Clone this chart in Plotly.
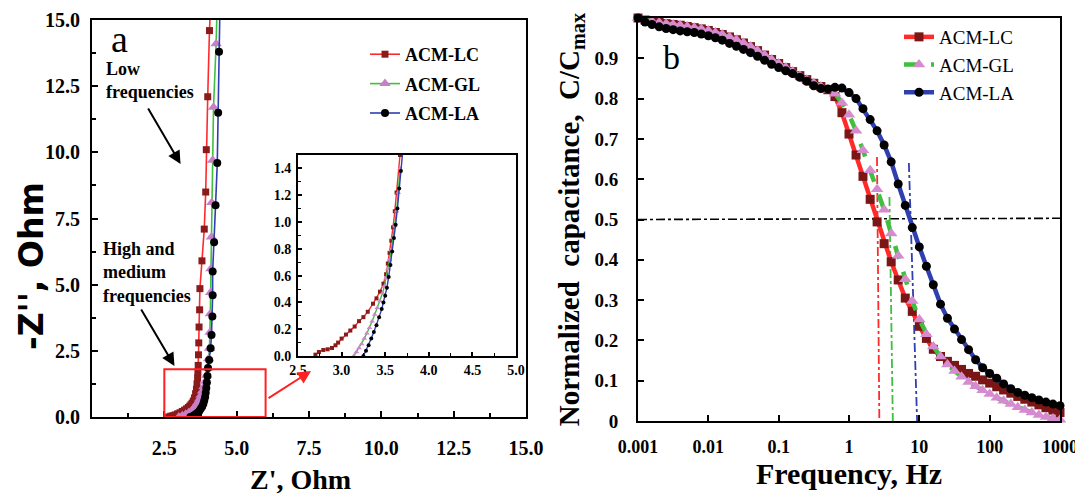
import plotly.graph_objects as go

# ---------------- Panel a : Nyquist plot (main) ----------------
lc_zre = [2.65, 2.72, 2.80, 2.88, 2.96, 3.04, 3.12, 3.20, 3.27, 3.33, 3.38, 3.42, 3.46, 3.50, 3.54,
          3.58, 3.61, 3.63, 3.65, 3.66, 3.67, 3.68, 3.69, 3.70, 3.72, 3.73, 3.80, 3.88, 3.93, 3.95,
          4.00, 4.06, 4.09]
lc_zim = [0.00, 0.03, 0.05, 0.08, 0.12, 0.16, 0.21, 0.26, 0.31, 0.36, 0.41, 0.46, 0.52, 0.60, 0.72,
          0.88, 1.05, 1.25, 1.48, 1.70, 1.95, 2.35, 2.80, 3.40, 4.05, 4.85, 5.90, 7.10, 8.50, 10.10,
          12.10, 14.60, 15.40]

gl_zre = [3.00, 3.12, 3.24, 3.35, 3.45, 3.53, 3.60, 3.66, 3.72, 3.77, 3.82, 3.87, 3.92, 3.96, 4.00,
          4.03, 4.06, 4.08, 4.09, 4.10, 4.11, 4.13, 4.14, 4.17, 4.20, 4.29, 4.32]
gl_zim = [0.00, 0.05, 0.10, 0.17, 0.25, 0.34, 0.44, 0.55, 0.68, 0.82, 0.98, 1.15, 1.35, 1.58, 1.85,
          2.20, 2.60, 3.20, 3.90, 4.70, 5.60, 6.80, 8.10, 9.70, 11.70, 14.10, 15.40]

la_zre = [3.40, 3.50, 3.58, 3.65, 3.71, 3.76, 3.81, 3.85, 3.88, 3.91, 3.93, 3.95, 3.97, 3.99,
          4.01, 4.05, 4.10, 4.13, 4.16, 4.17, 4.17, 4.22, 4.27, 4.33, 4.36, 4.39, 4.42]
la_zim = [0.00, 0.05, 0.10, 0.16, 0.23, 0.31, 0.40, 0.50, 0.62, 0.76, 0.92, 1.10, 1.30, 1.55,
          1.85, 2.15, 2.60, 3.10, 3.80, 4.60, 5.50, 6.60, 8.00, 9.60, 11.50, 13.80, 15.40]

# ---------------- Panel a : inset ----------------
lci_zre = [2.70, 2.74, 2.79, 2.84, 2.89, 2.93, 2.96, 3.00, 3.05, 3.10, 3.15, 3.20, 3.25, 3.30, 3.36,
           3.40, 3.44, 3.48, 3.51, 3.53, 3.55, 3.57, 3.59, 3.61, 3.63, 3.67]
lci_zim = [0.01, 0.03, 0.045, 0.05, 0.06, 0.08, 0.10, 0.13, 0.16, 0.19, 0.22, 0.26, 0.29, 0.33, 0.39,
           0.43, 0.48, 0.54, 0.61, 0.69, 0.77, 0.86, 0.96, 1.08, 1.22, 1.50]
gli_zre = [3.14, 3.17, 3.20, 3.23, 3.26, 3.29, 3.32, 3.35, 3.38, 3.41, 3.44, 3.47, 3.49, 3.51, 3.53,
           3.55, 3.57, 3.59, 3.61, 3.63, 3.65, 3.67]
gli_zim = [0.00, 0.03, 0.06, 0.09, 0.13, 0.17, 0.21, 0.26, 0.31, 0.36, 0.41, 0.47, 0.52, 0.58, 0.65,
           0.72, 0.79, 0.88, 0.97, 1.08, 1.22, 1.40]
lai_zre = [3.25, 3.28, 3.31, 3.34, 3.37, 3.40, 3.43, 3.46, 3.48, 3.50, 3.52, 3.54, 3.56, 3.58, 3.60,
           3.62, 3.64, 3.66, 3.68, 3.70]
lai_zim = [0.00, 0.04, 0.08, 0.13, 0.18, 0.23, 0.29, 0.35, 0.40, 0.45, 0.51, 0.59, 0.68, 0.78, 0.88,
           0.98, 1.10, 1.25, 1.38, 1.52]

# zoom box drawn on the main plot
zoom_box_x = [2.5, 6.0]
zoom_box_y = [0.0, 1.8]

# ---------------- Panel b : normalized capacitance ----------------
freq = [0.001, 0.00126, 0.00158, 0.002, 0.00251, 0.00316, 0.00398, 0.00501, 0.00631, 0.00794,
        0.01, 0.0126, 0.0158, 0.02, 0.0251, 0.0316, 0.0398, 0.0501, 0.0631, 0.0794,
        0.1, 0.126, 0.158, 0.2, 0.251, 0.316, 0.398, 0.501, 0.631, 0.794,
        1, 1.26, 1.58, 2, 2.51, 3.16, 3.98, 5.01, 6.31, 7.94,
        10, 12.6, 15.8, 20, 25.1, 31.6, 39.8, 50.1, 63.1, 79.4,
        100, 126, 158, 200, 251, 316, 398, 501, 631, 794, 1000]

c_lc = [1.000, 0.995, 0.992, 0.989, 0.986, 0.984, 0.982, 0.979, 0.976, 0.973,
        0.969, 0.964, 0.959, 0.953, 0.946, 0.938, 0.929, 0.919, 0.908, 0.897,
        0.887, 0.877, 0.867, 0.857, 0.847, 0.838, 0.830, 0.822, 0.805, 0.765,
        0.712, 0.660, 0.607, 0.550, 0.494, 0.440, 0.395, 0.350, 0.305, 0.272,
        0.235, 0.205, 0.178, 0.160, 0.148, 0.138, 0.128, 0.118, 0.111, 0.102,
        0.094, 0.085, 0.077, 0.069, 0.061, 0.054, 0.047, 0.040, 0.033, 0.027, 0.021]

c_gl = [1.000, 0.995, 0.992, 0.989, 0.986, 0.984, 0.982, 0.979, 0.976, 0.973,
        0.969, 0.964, 0.959, 0.953, 0.946, 0.938, 0.929, 0.919, 0.908, 0.897,
        0.887, 0.877, 0.867, 0.857, 0.847, 0.838, 0.830, 0.822, 0.812, 0.790,
        0.760, 0.720, 0.672, 0.622, 0.575, 0.524, 0.465, 0.410, 0.352, 0.298,
        0.252, 0.215, 0.185, 0.160, 0.140, 0.124, 0.110, 0.097, 0.086, 0.076,
        0.067, 0.058, 0.050, 0.042, 0.034, 0.027, 0.021, 0.015, 0.010, 0.006, 0.003]

c_la = [1.000, 0.990, 0.984, 0.978, 0.974, 0.971, 0.968, 0.966, 0.964, 0.960,
        0.956, 0.951, 0.945, 0.937, 0.930, 0.922, 0.914, 0.905, 0.895, 0.885,
        0.877, 0.869, 0.862, 0.853, 0.843, 0.832, 0.825, 0.824, 0.828, 0.826,
        0.815, 0.800, 0.775, 0.748, 0.720, 0.685, 0.643, 0.588, 0.535, 0.480,
        0.432, 0.384, 0.338, 0.290, 0.255, 0.228, 0.202, 0.177, 0.152, 0.132,
        0.118, 0.106, 0.092, 0.080, 0.071, 0.064, 0.058, 0.052, 0.047, 0.042, 0.038]

# reference (guide) lines in panel b
half_x = [0.001, 1000]
half_y = [0.5, 0.503]
lc_guide_x, lc_guide_y = [2.5, 2.7], [0.655, 0.0]
gl_guide_x, gl_guide_y = [3.76, 4.2], [0.556, 0.0]
la_guide_x, la_guide_y = [7.1, 9.3], [0.64, 0.0]

x_ticks_a = [2.5, 5.0, 7.5, 10.0, 12.5, 15.0]
x_minor_a = [1.25, 3.75, 6.25, 8.75, 11.25, 13.75]
f_ticks = [0.001, 0.01, 0.1, 1, 10, 100, 1000]
f_labels = ["0.001", "0.01", "0.1", "1", "10", "100", "1000"]
c_ticks = [0, 0.1, 0.2, 0.3, 0.4, 0.5, 0.6, 0.7, 0.8, 0.9, 1.0]
c_labels = ["0", "0.1", "0.2", "0.3", "0.4", "0.5", "0.6", "0.7", "0.8", "0.9", "1"]

SERIF = "Liberation Serif, Times New Roman, serif"
SANS = "DejaVu Sans, Arial, sans-serif"
OFF = 8                      # page body margin in the browser
W, H = 1083 - OFF, 494 - OFF

RED, GREEN, BLUE = "#ff2b2b", "#3fbf3f", "#2f3fb0"
DRED, PINK, BLACK = "#7a1616", "#d68ad0", "#000000"

fig = go.Figure()

# ---- main Nyquist traces
for name, xs, ys, lc, mc, sym, ms, grp in [
    ("ACM-LC", lc_zre, lc_zim, RED, "#8b1a1a", "square", 7, "a1"),
    ("ACM-GL", gl_zre, gl_zim, GREEN, "#c77fc7", "triangle-up", 10, "a2"),
    ("ACM-LA", la_zre, la_zim, BLUE, BLACK, "circle", 8, "a3"),
]:
    fig.add_trace(go.Scatter(x=xs, y=ys, mode="lines+markers", name=name,
                             line=dict(color=lc, width=1.6),
                             marker=dict(symbol=sym, size=ms, color=mc),
                             xaxis="x", yaxis="y", legend="legend", legendgroup=grp))

# ---- inset traces
for xs, ys, lc, mc, sym, ms in [
    (lci_zre, lci_zim, RED, "#8b1a1a", "square", 4),
    (gli_zre, gli_zim, GREEN, "#cc88cc", "triangle-up", 5),
    (lai_zre, lai_zim, BLUE, BLACK, "circle", 4),
]:
    fig.add_trace(go.Scatter(x=xs, y=ys, mode="lines+markers", showlegend=False,
                             line=dict(color=lc, width=1.4),
                             marker=dict(symbol=sym, size=ms, color=mc),
                             xaxis="x2", yaxis="y2"))

# ---- panel b guide lines
fig.add_trace(go.Scatter(x=half_x, y=half_y, mode="lines", showlegend=False,
                         line=dict(color="black", width=1.6, dash="dashdot"), xaxis="x3", yaxis="y3"))
for gx, gy, col in [(lc_guide_x, lc_guide_y, RED), (gl_guide_x, gl_guide_y, GREEN),
                    (la_guide_x, la_guide_y, BLUE)]:
    fig.add_trace(go.Scatter(x=gx, y=gy, mode="lines", showlegend=False,
                             line=dict(color=col, width=1.8, dash="dashdot"), xaxis="x3", yaxis="y3"))

# ---- panel b curves
for name, ys, lc, dash, mc, sym, ms, grp in [
    ("ACM-LC", c_lc, RED, "solid", DRED, "square", 9, "b1"),
    ("ACM-GL", c_gl, GREEN, "dash", PINK, "triangle-up", 11, "b2"),
    ("ACM-LA", c_la, BLUE, "solid", BLACK, "circle", 9, "b3"),
]:
    fig.add_trace(go.Scatter(x=freq, y=ys, mode="lines+markers", name=name,
                             line=dict(color=lc, width=4.5, dash=dash),
                             marker=dict(symbol=sym, size=ms, color=mc),
                             cliponaxis=False,
                             xaxis="x3", yaxis="y3", legend="legend2", legendgroup=grp))


def px_x(p):
    return (p - OFF) / W


def px_y(p):
    return 1 - (p - OFF) / H


tick_font = dict(family=SERIF, size=20, color="black", weight="bold")
axis_common = dict(showline=True, linecolor="black", linewidth=2, mirror=True,
                   ticks="inside", tickcolor="black", tickwidth=2, ticklen=6,
                   showgrid=False, zeroline=False, automargin=False)

fig.update_layout(
    width=W, height=H,
    margin=dict(l=0, r=0, t=0, b=0),
    paper_bgcolor="white", plot_bgcolor="white",
    xaxis=dict(domain=[px_x(92), px_x(526)], range=[0, 15], anchor="y",
               tickvals=x_ticks_a, ticktext=["%.1f" % v for v in x_ticks_a],
               minor=dict(tickvals=x_minor_a, ticks="inside", ticklen=4, tickwidth=1.5, tickcolor="black"),
               tickfont=tick_font, ticklabelstandoff=12,
               **axis_common),
    yaxis=dict(domain=[px_y(417), px_y(20)], range=[0, 15], anchor="x",
               tick0=0, dtick=2.5, tickformat=".1f",
               minor=dict(dtick=1.25, ticks="inside", ticklen=4, tickwidth=1.5, tickcolor="black"),
               tickfont=tick_font, ticklabelstandoff=6,
               **axis_common),
    xaxis2=dict(domain=[px_x(298), px_x(516)], range=[2.5, 5.0], anchor="y2",
                tick0=2.5, dtick=0.5, tickformat=".1f",
                minor=dict(dtick=0.25, ticks="inside", ticklen=3, tickwidth=1.2, tickcolor="black"),
                tickfont=dict(family=SERIF, size=14, color="black", weight="bold"),
                ticklabelstandoff=0,
                **{**axis_common, "ticklen": 4, "linewidth": 1.8}),
    yaxis2=dict(domain=[px_y(356), px_y(155)], range=[0, 1.5], anchor="x2",
                tickvals=[0, 0.2, 0.4, 0.6, 0.8, 1.0, 1.2, 1.4], tickformat=".1f",
                minor=dict(dtick=0.1, ticks="inside", ticklen=3, tickwidth=1.2, tickcolor="black"),
                tickfont=dict(family=SERIF, size=14, color="black", weight="bold"),
                ticklabelstandoff=2,
                **{**axis_common, "ticklen": 4, "linewidth": 1.8}),
    xaxis3=dict(domain=[px_x(638), px_x(1060)], type="log", range=[-3, 3], anchor="y3",
                tickvals=f_ticks, ticktext=f_labels,
                tickfont=dict(family=SERIF, size=18, color="black", weight="bold"),
                ticklabelstandoff=8,
                title=dict(text="Frequency, Hz", font=dict(family=SERIF, size=30, color="black", weight="bold"),
                           standoff=6),
                **axis_common),
    yaxis3=dict(domain=[px_y(421), px_y(18)], range=[0, 1], anchor="x3",
                tickvals=c_ticks, ticktext=c_labels,
                tickfont=dict(family=SERIF, size=19, color="black", weight="bold"),
                ticklabelstandoff=14,
                title=dict(text="Normalized  capacitance,  C/C<sub>max</sub>",
                           font=dict(family=SERIF, size=29, color="black", weight="bold"),
                           standoff=6),
                **axis_common),
    legend=dict(x=px_x(365), y=px_y(36), xanchor="left", yanchor="top",
                bgcolor="rgba(0,0,0,0)", tracegroupgap=3,
                font=dict(family=SERIF, size=18, color="black", weight="bold")),
    legend2=dict(x=px_x(899), y=px_y(18), xanchor="left", yanchor="top",
                 bgcolor="rgba(0,0,0,0)", tracegroupgap=0,
                 font=dict(family=SERIF, size=19, color="black")),
    shapes=[dict(type="rect", xref="x", yref="y", x0=zoom_box_x[0], x1=zoom_box_x[1],
                 y0=zoom_box_y[0], y1=zoom_box_y[1], line=dict(color="#ff2020", width=2))],
    annotations=[
        # axis titles of panel a
        dict(text="Z', Ohm", x=px_x(300), y=px_y(479), xref="paper", yref="paper", showarrow=False,
             xanchor="center", yanchor="middle",
             font=dict(family=SERIF, size=28, color="black", weight="bold")),
        dict(text="-Z'', Ohm", x=px_x(31), y=px_y(266), xref="paper", yref="paper", showarrow=False,
             xanchor="center", yanchor="middle", textangle=-90,
             font=dict(family=SANS, size=33, color="black", weight="bold")),
        dict(text="a", x=px_x(119), y=px_y(39), xref="paper", yref="paper", showarrow=False,
             xanchor="center", yanchor="middle",
             font=dict(family=SERIF, size=38, color="black")),
        dict(text="b", x=px_x(672), y=px_y(58), xref="paper", yref="paper", showarrow=False,
             xanchor="center", yanchor="middle",
             font=dict(family=SERIF, size=34, color="black")),
        dict(text="Low<br>frequencies", x=px_x(104), y=px_y(80), xref="paper", yref="paper",
             xanchor="left", yanchor="middle", align="left", showarrow=False,
             font=dict(family=SERIF, size=18, color="black", weight="bold")),
        dict(text="High and<br>medium<br>frequencies", x=px_x(101), y=px_y(272), xref="paper", yref="paper",
             xanchor="left", yanchor="middle", align="left", showarrow=False,
             font=dict(family=SERIF, size=18, color="black", weight="bold")),
        dict(text="", x=3.06, y=9.56, ax=1.91, ay=11.71, xref="x", yref="y", axref="x", ayref="y",
             showarrow=True, arrowhead=2, arrowsize=1.3, arrowwidth=2, arrowcolor="black"),
        dict(text="", x=2.85, y=1.93, ax=1.67, ay=4.12, xref="x", yref="y", axref="x", ayref="y",
             showarrow=True, arrowhead=2, arrowsize=1.3, arrowwidth=2, arrowcolor="black"),
        dict(text="", x=7.57, y=1.74, ax=6.05, ay=0.68, xref="x", yref="y", axref="x", ayref="y",
             showarrow=True, arrowhead=2, arrowsize=1.3, arrowwidth=2, arrowcolor="#ff2020"),
    ],
)

fig.write_html("out.html")
